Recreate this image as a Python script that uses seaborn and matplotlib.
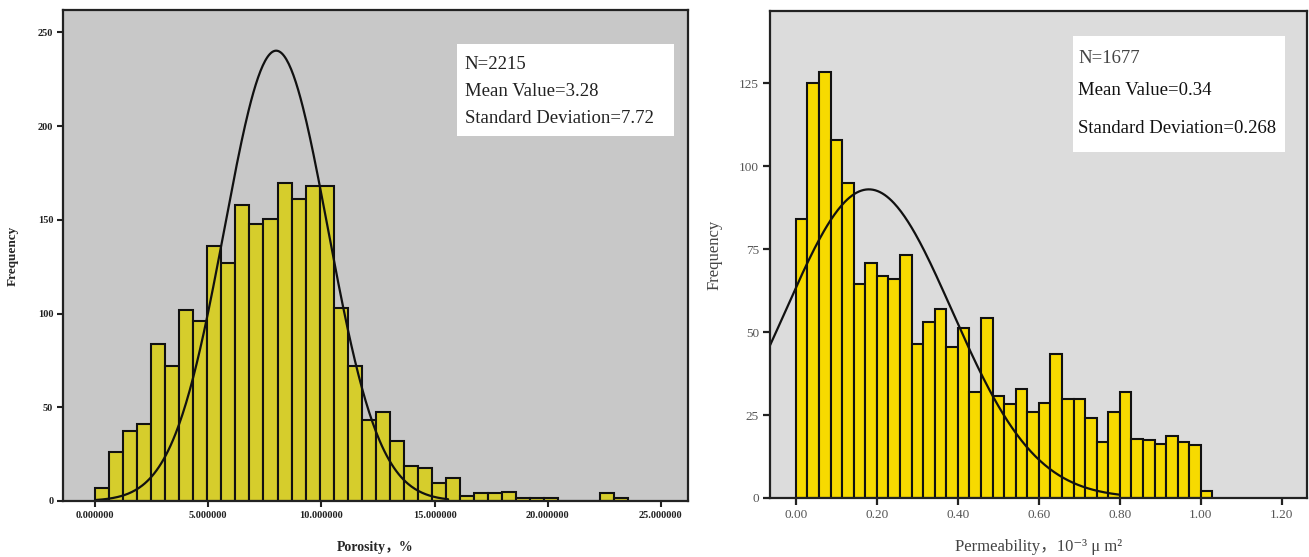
import numpy as np
import pandas as pd
import matplotlib
matplotlib.use("Agg")
import matplotlib.pyplot as plt
import seaborn as sns
from matplotlib.patches import Rectangle

sns.set_theme(style="white")
plt.rcParams['font.family'] = ['Liberation Serif', 'DejaVu Serif', 'Noto Sans CJK SC']

# ---------------- data: porosity ----------------
por_bin_width = 0.62
por_counts = [7, 26, 37.5, 41, 84, 72, 102, 96, 136, 127, 158, 148, 150.5, 169.5,
              161, 168, 168, 103, 72, 43, 47.5, 32, 18.6, 17.5, 9.8, 12.5, 2.7,
              4.5, 4.5, 5, 1.5, 1.5, 1.5, 0, 0, 0, 4.5, 1.5]
por_xticks = [0, 5, 10, 15, 20, 25]
por_xticklabels = ["0.000000", "5.000000", "10.000000", "15.000000", "20.000000", "25.000000"]
por_yticks = [0, 50, 100, 150, 200, 250]
por_curve_mean = 8.0
por_curve_sd = 2.28
por_curve_range = (0.0, 15.6)
por_N = 2215
por_text = ["N=2215", "Mean Value=3.28", "Standard Deviation=7.72"]

# ---------------- data: permeability ----------------
perm_bin_width = 1.0 / 35
perm_counts = [84, 125, 128.3, 107.7, 94.9, 64.5, 70.8, 67, 66, 73.3, 46.3, 53,
               57, 45.6, 51.2, 32, 54.2, 30.8, 28.2, 32.8, 26, 28.7, 43.5, 29.7,
               29.7, 24.2, 17, 25.9, 32, 17.8, 17.6, 16.4, 18.8, 17, 16, 2.2]
perm_xticks = [0.0, 0.2, 0.4, 0.6, 0.8, 1.0, 1.2]
perm_xticklabels = ["0.00", "0.20", "0.40", "0.60", "0.80", "1.00", "1.20"]
perm_yticks = [0, 25, 50, 75, 100, 125]
perm_curve_mean = 0.18
perm_curve_sd = 0.2056
perm_curve_range = (-0.064, 0.80)
perm_N = 1677
perm_text = ["N=1677", "Mean Value=0.34", "Standard Deviation=0.268"]


def hist_panel(ax, counts, width, N, mean, sd, crange, face, bg):
    nb = len(counts)
    centers = (np.arange(nb) + 0.5) * width
    df = pd.DataFrame({"x": centers, "w": np.asarray(counts, dtype=float)})
    sns.histplot(data=df, x="x", weights="w", binwidth=width, binrange=(0, nb * width),
                 ax=ax, color=face, alpha=1, edgecolor="#111111", linewidth=1.5)
    xs = np.linspace(crange[0], crange[1], 300)
    ys = N * width / (sd * np.sqrt(2 * np.pi)) * np.exp(-0.5 * ((xs - mean) / sd) ** 2)
    sns.lineplot(x=xs, y=ys, ax=ax, color="#111111", linewidth=1.6)
    ax.set_facecolor(bg)
    for s in ax.spines.values():
        s.set_color("#222222")
        s.set_linewidth(1.6)


fig = plt.figure(figsize=(13.09, 5.57), dpi=100)

# -------- left panel --------
ax1 = fig.add_axes([63 / 1309, 1 - 501 / 557, 625 / 1309, 491 / 557])
hist_panel(ax1, por_counts, por_bin_width, por_N, por_curve_mean, por_curve_sd,
           por_curve_range, "#d6cd2c", "#c8c8c8")
ax1.set_xlim(-1.42, 26.2)
ax1.set_ylim(0, 262)
ax1.set_xticks(por_xticks)
ax1.set_xticklabels(por_xticklabels)
ax1.set_yticks(por_yticks)
ax1.tick_params(axis="both", direction="out", length=4, width=1.5, color="#222222",
                labelsize=7.5, pad=3, bottom=True, left=True)
for lab in ax1.get_xticklabels() + ax1.get_yticklabels():
    lab.set_fontweight("bold")
    lab.set_color("#222222")
ax1.set_xlabel("Porosity，%", fontsize=10, fontweight="bold", labelpad=15,
               family=['Liberation Serif', 'Noto Sans CJK SC'])
ax1.set_ylabel("Frequency", fontsize=9.5, fontweight="bold", labelpad=14)
ax1.add_patch(Rectangle((0.630, 0.743), 0.348, 0.188, transform=ax1.transAxes,
                        facecolor="white", edgecolor="none", zorder=5))
for t, yy in zip(por_text, [0.890, 0.835, 0.780]):
    ax1.text(0.643, yy, t, transform=ax1.transAxes, fontsize=13.5, va="center",
             ha="left", color="#222222", zorder=6)

# -------- right panel --------
ax2 = fig.add_axes([770 / 1309, 1 - 498 / 557, 537 / 1309, 487 / 557])
hist_panel(ax2, perm_counts, perm_bin_width, perm_N, perm_curve_mean, perm_curve_sd,
           perm_curve_range, "#f7da00", "#dcdcdc")
ax2.set_xlim(-0.064, 1.262)
ax2.set_ylim(0, 146.7)
ax2.set_xticks(perm_xticks)
ax2.set_xticklabels(perm_xticklabels)
ax2.set_yticks(perm_yticks)
ax2.tick_params(axis="both", direction="out", length=5, width=1.6, color="#222222",
                labelsize=9.5, pad=3, labelcolor="#555555", bottom=True, left=True)
ax2.set_xlabel("Permeability，10⁻³ μ m²", fontsize=12, color="#444444", labelpad=13,
               family=['Liberation Serif', 'DejaVu Serif', 'Noto Sans CJK SC'])
ax2.set_ylabel("Frequency", fontsize=12, color="#444444", labelpad=12)
ax2.add_patch(Rectangle((0.564, 0.710), 0.395, 0.239, transform=ax2.transAxes,
                        facecolor="white", edgecolor="none", zorder=5))
for t, yy, c in zip(perm_text, [0.903, 0.836, 0.758], ["#444444", "#111111", "#111111"]):
    ax2.text(0.574, yy, t, transform=ax2.transAxes, fontsize=13.5, va="center",
             ha="left", color=c, zorder=6)

fig.savefig("out.png", dpi=100, facecolor="white")
